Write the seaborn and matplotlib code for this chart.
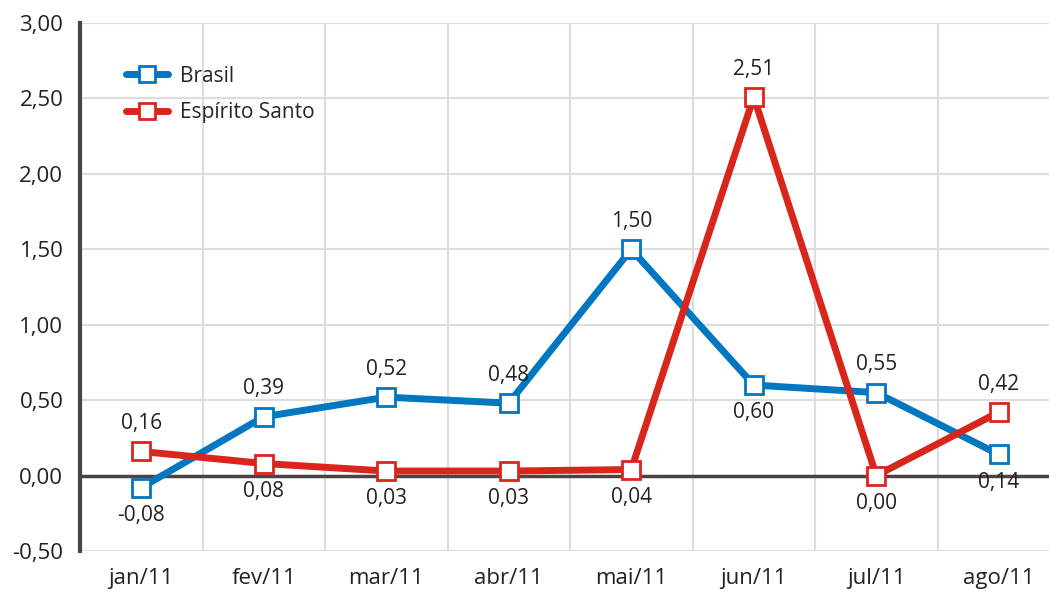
import matplotlib
matplotlib.use("Agg")
import matplotlib.pyplot as plt
import seaborn as sns
import pandas as pd
from matplotlib.ticker import FixedLocator, FuncFormatter
from matplotlib.lines import Line2D

# data
meses = ["jan/11", "fev/11", "mar/11", "abr/11", "mai/11", "jun/11", "jul/11", "ago/11"]
brasil = [-0.08, 0.39, 0.52, 0.48, 1.50, 0.60, 0.55, 0.14]
espirito_santo = [0.16, 0.08, 0.03, 0.03, 0.04, 2.51, 0.00, 0.42]
# label above (+1) or below (-1) the point
pos_brasil = [-1, 1, 1, 1, 1, -1, 1, -1]
pos_es = [1, -1, -1, -1, -1, 1, -1, 1]

sns.set_style("white")
plt.rcParams["font.family"] = ["Open Sans", "DejaVu Sans"]

series = {"Brasil": (brasil, pos_brasil, "#0077c0"),
          "Espírito Santo": (espirito_santo, pos_es, "#d9261c")}

fig = plt.figure(figsize=(10.49, 5.96), dpi=100)
ax = fig.add_axes([80 / 1049, 1 - 551 / 596, 969 / 1049, (551 - 23) / 596])

fmt = lambda v: f"{v:.2f}".replace(".", ",")
for nome, (vals, pos, cor) in series.items():
    df = pd.DataFrame({"x": range(len(meses)), "valor": vals})
    sns.lineplot(data=df, x="x", y="valor", ax=ax, color=cor, linewidth=5,
                 marker="s", markersize=13, markerfacecolor="white",
                 markeredgecolor=cor, markeredgewidth=2, zorder=3)
    for i, (v, p) in enumerate(zip(vals, pos)):
        ax.annotate(fmt(v), (i, v), xytext=(0, 20 * p), textcoords="offset points",
                    ha="center", va="center", fontsize=15, color="#222222")

ax.set_xlim(-0.5, 7.41)
ax.set_ylim(-0.5, 3.0)
ax.set_xticks(range(8))
ax.set_xticklabels(meses)
ax.xaxis.set_minor_locator(FixedLocator([i + 0.5 for i in range(8)]))
ax.set_yticks([-0.5, 0, 0.5, 1, 1.5, 2, 2.5, 3])
ax.yaxis.set_major_formatter(FuncFormatter(lambda v, _: fmt(v)))
ax.tick_params(axis="both", which="both", length=0, labelsize=16, colors="#222222")
ax.tick_params(axis="x", pad=12)
ax.tick_params(axis="y", pad=12)
ax.grid(axis="y", which="major", color="#dddddd", linewidth=1.5, zorder=0)
ax.grid(axis="x", which="minor", color="#dddddd", linewidth=1.5, zorder=0)
ax.axhline(0, color="#4a4544", linewidth=2.5, zorder=2)
for s in ["top", "right", "bottom"]:
    ax.spines[s].set_visible(False)
ax.spines["left"].set_color("#4a4544")
ax.spines["left"].set_linewidth(3)
ax.set_xlabel("")
ax.set_ylabel("")

handles = [Line2D([], [], color=c, linewidth=5, marker="s", markersize=11,
                  markerfacecolor="white", markeredgecolor=c, markeredgewidth=2)
           for _, _, c in series.values()]
ax.legend(handles, list(series.keys()), loc="upper left", bbox_to_anchor=(0.028, 0.955),
          frameon=False, fontsize=15, handlelength=2.0, handletextpad=0.6,
          labelspacing=0.75)

fig.savefig("out.png", dpi=100)
